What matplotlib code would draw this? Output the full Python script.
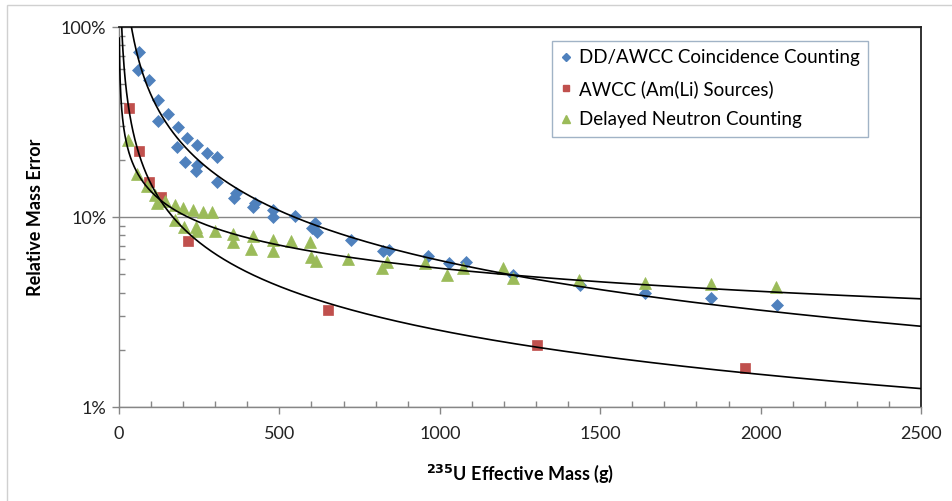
import numpy as np
import matplotlib
matplotlib.use("Agg")
import matplotlib.pyplot as plt
from matplotlib.lines import Line2D
from matplotlib.patches import Rectangle
from matplotlib.ticker import FixedLocator, MultipleLocator, LogLocator, NullFormatter, FuncFormatter

# DD/AWCC coincidence counting: 235U effective mass (g) vs relative mass error (%)
dd_mass = [62, 60, 93, 123, 153, 122, 183, 213, 244, 274, 304, 182, 206, 243, 239,
           304, 365, 359, 419, 424, 481, 479, 549, 611, 601, 616, 722, 822, 841,
           962, 1029, 1081, 1229, 1437, 1640, 1845, 2051]
dd_err = [73.6, 59.4, 52.4, 41.3, 34.8, 32.0, 29.9, 26.1, 23.9, 21.8, 20.6, 23.3, 19.4,
          18.8, 17.4, 15.3, 13.4, 12.6, 11.3, 11.8, 10.9, 10.0, 10.1, 9.3, 8.7, 8.3,
          7.6, 6.6, 6.7, 6.2, 5.7, 5.8, 4.95, 4.4, 4.0, 3.73, 3.45]

# AWCC with Am(Li) sources
amli_mass = [31, 62, 95, 130, 216, 652, 1303, 1951]
amli_err = [37.5, 22.3, 15.2, 12.8, 7.5, 3.24, 2.12, 1.61]

# Delayed neutron counting
dn_mass = [29, 55, 86, 112, 117, 143, 174, 200, 232, 261, 289, 174, 202, 240, 242, 299,
           356, 356, 419, 410, 479, 479, 536, 595, 597, 614, 715, 819, 836, 954, 1023,
           1073, 1198, 1229, 1435, 1640, 1845, 2048]
dn_err = [25.4, 16.8, 14.6, 13.1, 11.8, 12.2, 11.5, 11.1, 10.9, 10.6, 10.6, 9.7, 8.9, 8.9,
          8.4, 8.4, 8.1, 7.35, 7.9, 6.75, 7.6, 6.65, 7.5, 7.4, 6.15, 5.9, 6.0, 5.37, 5.8,
          5.7, 4.95, 5.4, 5.4, 4.76, 4.66, 4.5, 4.42, 4.3]

series_labels = ["DD/AWCC Coincidence Counting", "AWCC (Am(Li) Sources)",
                 "Delayed Neutron Counting"]
x_ticks = [0, 500, 1000, 1500, 2000, 2500]
y_ticks = [1, 10, 100]

plt.rcParams["font.family"] = ["Lato", "DejaVu Sans"]

fig = plt.figure(figsize=(9.52, 5.01), dpi=100)
W, H = 952, 501

# light chart-area border
fig.patches.append(Rectangle((7 / W, -0.05), 1.0, (501 - 5) / H + 0.05,
                             transform=fig.transFigure, fill=False,
                             edgecolor="#d0d0d0", linewidth=1.0))

ax = fig.add_axes([119 / W, 1 - 407 / H, (921 - 119) / W, (407 - 27) / H])

styles = [
    dict(marker="D", color="#4f81bd", ms=6.3),
    dict(marker="s", color="#c0504d", ms=6.8),
    dict(marker="^", color="#9bbb59", ms=8.0),
]
datasets = [(dd_mass, dd_err), (amli_mass, amli_err), (dn_mass, dn_err)]

xfit = np.linspace(1, 2500, 2000)
for (mx, my), st in zip(datasets, styles):
    ax.plot(mx, my, linestyle="none", marker=st["marker"], ms=st["ms"],
            markerfacecolor=st["color"], markeredgecolor=st["color"],
            markeredgewidth=0.5, zorder=3)
    # power-law trend line
    b, a = np.polyfit(np.log(mx), np.log(my), 1)
    ax.plot(xfit, np.exp(a) * xfit ** b, color="black", lw=1.2, zorder=4)

ax.set_yscale("log")
ax.set_xlim(0, 2500)
ax.set_ylim(1, 100)

ax.xaxis.set_major_locator(FixedLocator(x_ticks))
ax.xaxis.set_minor_locator(MultipleLocator(100))
ax.yaxis.set_major_locator(FixedLocator(y_ticks))
ax.yaxis.set_minor_locator(LogLocator(base=10, subs=np.arange(2, 10)))
ax.yaxis.set_minor_formatter(NullFormatter())
ax.yaxis.set_major_formatter(FuncFormatter(lambda v, p: f"{v:g}%"))

ax.tick_params(axis="both", which="major", direction="out", length=5, width=1,
               color="#868686", labelsize=13, labelcolor="#222222")
ax.tick_params(axis="both", which="minor", direction="in", length=4, width=1,
               color="#868686")
ax.tick_params(axis="x", which="major", pad=9)
ax.tick_params(axis="y", which="major", pad=4)

ax.grid(True, axis="y", which="major", color="#868686", lw=1.0)
ax.set_axisbelow(True)

for side in ("left", "bottom"):
    ax.spines[side].set_color("#868686")
    ax.spines[side].set_linewidth(1.0)
for side in ("top", "right"):
    ax.spines[side].set_color("#222222")
    ax.spines[side].set_linewidth(1.3)

ax.set_ylabel("Relative Mass Error", fontsize=13, fontweight="bold", labelpad=12)
ax.set_xlabel(r"$^{\mathbf{235}}$U Effective Mass (g)", fontsize=13,
              fontweight="bold", labelpad=15)

handles = [Line2D([], [], linestyle="none", marker=st["marker"], ms=st["ms"] * 0.7,
                  markerfacecolor=st["color"], markeredgecolor=st["color"])
           for st in styles]
leg = ax.legend(handles, series_labels, loc="upper left",
                bbox_to_anchor=(0.54, 0.963), fontsize=13.5, frameon=True,
                fancybox=False, borderpad=0.45, labelspacing=0.72,
                handlelength=0.6, handletextpad=0.4, borderaxespad=0)
leg.get_frame().set_edgecolor("#8aa0b8")
leg.get_frame().set_linewidth(1.0)

fig.savefig("out.png", dpi=100)
